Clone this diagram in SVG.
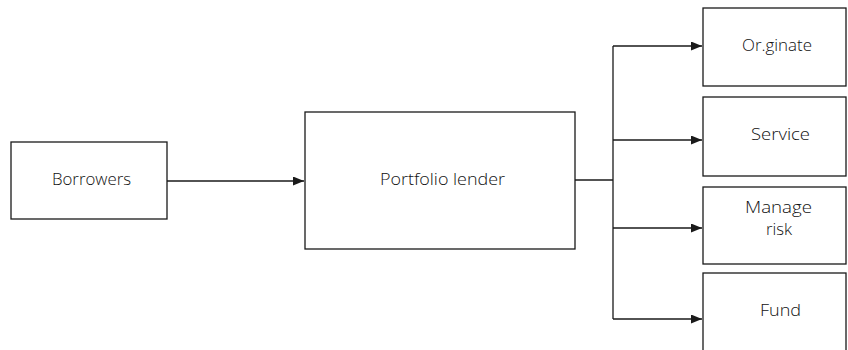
<svg xmlns="http://www.w3.org/2000/svg" width="848" height="350" viewBox="0 0 848 350">
  <style>
    .box { fill: #ffffff; stroke: #1a1a1a; stroke-width: 1.3; }
    .lbl { font-family: "Open Sans", "Liberation Sans", Arial, sans-serif; font-weight: 300; font-size: 16px; fill: #111111; text-anchor: start; }
    .wire { fill: none; stroke: #1a1a1a; stroke-width: 1.3; }
  </style>
  <defs>
    <marker id="arrow" viewBox="0 0 11 9" refX="11" refY="4.5" markerWidth="11" markerHeight="9" markerUnits="userSpaceOnUse" orient="auto">
      <path d="M0,0 L11,4.5 L0,9 Z" fill="#1a1a1a"/>
    </marker>
  </defs>
  <rect width="848" height="350" fill="#ffffff"/>

  <g id="connectors">
    <path class="wire" d="M167,181 H304" marker-end="url(#arrow)"/>
    <path class="wire" d="M575,180 H613"/>
    <path class="wire" d="M613,46 V319"/>
    <path class="wire" d="M613,46 H702" marker-end="url(#arrow)"/>
    <path class="wire" d="M613,140 H702" marker-end="url(#arrow)"/>
    <path class="wire" d="M613,228 H702" marker-end="url(#arrow)"/>
    <path class="wire" d="M613,319 H702" marker-end="url(#arrow)"/>
  </g>

  <g id="borrowers">
    <rect class="box" x="11" y="142" width="156" height="77"/>
    <text class="lbl" x="52" y="185" textLength="79" lengthAdjust="spacingAndGlyphs">Borrowers</text>
  </g>

  <g id="portfolio-lender">
    <rect class="box" x="305" y="112" width="270" height="137"/>
    <text class="lbl" x="380" y="185" textLength="125" lengthAdjust="spacingAndGlyphs">Portfolio lender</text>
  </g>

  <g id="originate">
    <rect class="box" x="703" y="8" width="143" height="78"/>
    <text class="lbl" x="742" y="51" textLength="70" lengthAdjust="spacingAndGlyphs">Or.ginate</text>
  </g>

  <g id="service">
    <rect class="box" x="703" y="97" width="143" height="79"/>
    <text class="lbl" x="751" y="140" textLength="59" lengthAdjust="spacingAndGlyphs">Service</text>
  </g>

  <g id="manage-risk">
    <rect class="box" x="703" y="187" width="143" height="77"/>
    <text class="lbl" x="745" y="213" textLength="67" lengthAdjust="spacingAndGlyphs">Manage</text>
    <text class="lbl" x="766" y="235" textLength="26" lengthAdjust="spacingAndGlyphs">risk</text>
  </g>

  <g id="fund">
    <rect class="box" x="703" y="273" width="143" height="90"/>
    <text class="lbl" x="760" y="316" textLength="41" lengthAdjust="spacingAndGlyphs">Fund</text>
  </g>
</svg>
